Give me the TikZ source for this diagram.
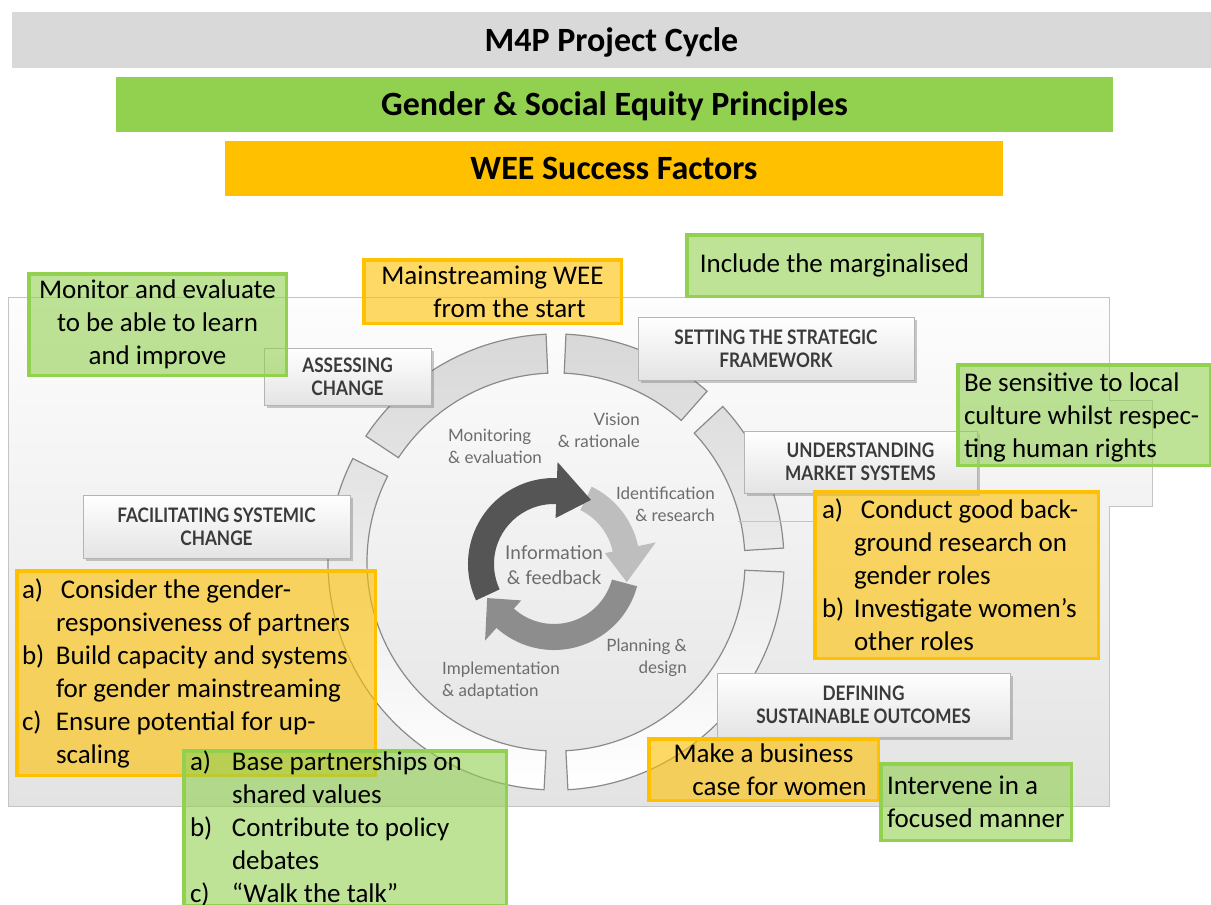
\documentclass[tikz,border=0pt]{standalone}
\usepackage{fontspec}
\setmainfont{Carlito}
\newfontfamily\gillfont{Lato}
\newfontfamily\capsfont{Lato}[FakeStretch=0.86]
\usetikzlibrary{shadows}

\definecolor{titlegray}{HTML}{D9D9D9}
\definecolor{eqgreen}{HTML}{92D050}
\definecolor{weeorange}{HTML}{FFC000}
\definecolor{paneltop}{HTML}{FDFDFD}
\definecolor{panelbottom}{HTML}{E3E3E3}
\definecolor{panelline}{HTML}{C4C4C4}
\definecolor{ringline}{HTML}{8A8A8A}
\definecolor{ringtop}{HTML}{D8D8D8}
\definecolor{capborder}{HTML}{B4B4B4}
\definecolor{capbottom}{HTML}{E4E4E4}
\definecolor{captext}{HTML}{3A3A3A}
\definecolor{cyctext}{HTML}{6C6C6C}
\definecolor{arrdark}{HTML}{555555}
\definecolor{arrlight}{HTML}{BEBEBE}
\definecolor{arrmid}{HTML}{8D8D8D}

% one band of the project-cycle ring, from angle #1 clockwise to angle #2
\newcommand\ringseg[2]{(#1:228) arc[start angle=#1, end angle=#2, radius=228] -- (#2:189) arc[start angle=#2, end angle=#1, radius=189] -- cycle}
\newcommand\capfont{\capsfont\bfseries\fontsize{20}{23}\selectfont}
\newcommand\cycfont{\gillfont\fontsize{17}{22}\selectfont}
\newcommand\notefont{\fontsize{27}{33}\selectfont}

\begin{document}
\begin{tikzpicture}[x=1pt,y=-1pt,
  banner/.style={inner sep=0pt, text height=22pt, text depth=0pt, font=\fontsize{34}{40}\selectfont\bfseries},
  note/.style={line width=3.5pt, fill opacity=0.6, text opacity=1, inner sep=0pt, font=\notefont},
  greennote/.style={note, draw=eqgreen, fill=eqgreen},
  orangenote/.style={note, draw=weeorange, fill=weeorange},
  notetext/.style={inner sep=0pt, outer sep=0pt, font=\notefont, align=left, anchor=west},
  capbox/.style={draw=capborder, line width=0.8pt, top color=white, bottom color=capbottom,
    drop shadow={shadow xshift=2.5pt, shadow yshift=-2.5pt, opacity=0.35, fill=black!60},
    font=\capfont, text=captext, align=center, inner sep=0pt},
  cyclabel/.style={font=\cycfont, text=cyctext, inner sep=0pt},
  segline/.style={draw=ringline, line width=1.2pt},
]
\useasboundingbox (0,0) rectangle (1211,905);

% heading bars
\node[banner, fill=titlegray, minimum width=1199pt, minimum height=56pt] (title) at (611.5,40) {M4P Project Cycle};
\node[banner, fill=eqgreen, minimum width=997pt, minimum height=55pt] (principles) at (614.5,104.5) {Gender \& Social Equity Principles};
\node[banner, fill=weeorange, minimum width=778pt, minimum height=55pt] (factors) at (614,168.5) {WEE Success Factors};

% background panel of the cycle figure
\shade[top color=paneltop, bottom color=panelbottom, draw=panelline, line width=0.8pt]
  (8,297) -- (1109,297) -- (1109,400) -- (1152,400) -- (1152,506) -- (1109,506)
  -- (1109,806) -- (8,806) -- cycle;

% ring of five bands
\begin{scope}[shift={(556,562)}, yscale=-1]
  \shade[top color=ringtop, bottom color=white]
    \ringseg{87.5}{48.5} \ringseg{43}{3.5} \ringseg{-2.5}{-87} \ringseg{-93}{-207} \ringseg{146.5}{92.5};
  \draw[segline]
    \ringseg{87.5}{48.5} \ringseg{43}{3.5} \ringseg{-2.5}{-87} \ringseg{-93}{-207} \ringseg{146.5}{92.5};
\end{scope}
\draw[panelline, line width=0.8pt] (738,521) -- (813,521);

% inner cycle of three curved arrows
\begin{scope}[shift={(554,564)}, yscale=-1]
  \fill[arrmid] (-15:86) arc[start angle=-15, end angle=-132, radius=86] -- (-132:103)
    -- (-153:75) -- (-132:49) -- (-132:60) arc[start angle=-132, end angle=-15, radius=60] -- cycle;
  \fill[arrlight] (64:86) arc[start angle=64, end angle=12, radius=86] -- (12:104)
    -- (-14:75) -- (12:52) -- (12:60) arc[start angle=12, end angle=64, radius=60] -- cycle;
  \fill[arrdark] (205:86) arc[start angle=205, end angle=88, radius=86] -- (88:102)
    -- (60:74) -- (88:46) -- (88:60) arc[start angle=88, end angle=205, radius=60] -- cycle;
\end{scope}

% stage labels inside the ring
\node[cyclabel, anchor=west, align=left] (monitoring) at (448,446) {Monitoring\\\& evaluation};
\node[cyclabel, anchor=east, align=right] (vision) at (640,430) {Vision\\\& rationale};
\node[cyclabel, anchor=east, align=right] (identification) at (715,504) {Identification\\\& research};
\node[cyclabel, align=center, font=\gillfont\fontsize{19}{25}\selectfont] (information) at (554,565) {Information\\\& feedback};
\node[cyclabel, anchor=east, align=right] (planning) at (687,658) {Planning \&\\design};
\node[cyclabel, anchor=west, align=left] (implementation) at (442,681) {Implementation\\\& adaptation};

% phase captions on the ring
\node[capbox, minimum width=167pt, minimum height=57pt] (assessing) at (347.5,376.5) {ASSESSING\\CHANGE};
\node[capbox, minimum width=276pt, minimum height=63pt] (setting) at (776,348.5) {SETTING THE STRATEGIC\\FRAMEWORK};
\node[capbox, minimum width=233pt, minimum height=62pt] (understanding) at (860.5,462) {UNDERSTANDING\\MARKET SYSTEMS};
\node[capbox, minimum width=267pt, minimum height=63pt] (facilitating) at (216.5,526.5) {FACILITATING SYSTEMIC\\CHANGE};
\node[capbox, minimum width=293pt, minimum height=64pt] (defining) at (863.5,705) {DEFINING\\SUSTAINABLE OUTCOMES};

% success factors and principles
\node[greennote, minimum width=257.5pt, minimum height=101.5pt, align=center] (monitor) at (157.5,324.5)
  {Monitor and evaluate\\to be able to learn\\and improve};
\node[orangenote, minimum width=257.5pt, minimum height=63.5pt, align=center] (mainstream) at (492.5,291.5)
  {Mainstreaming WEE\\\hspace*{34pt}from the start};
\node[greennote, minimum width=295.5pt, minimum height=61.5pt] (include) at (834.5,265.5)
  {Include the marginalised};

\node[greennote, minimum width=252.5pt, minimum height=100.5pt] (sensitivebox) at (1084,415) {};
\node[notetext] (sensitive) at ([xshift=8pt,yshift=-2pt]sensitivebox.west)
  {Be sensitive to local\\culture whilst respec-\\ting human rights};

\node[orangenote, minimum width=283.5pt, minimum height=166.5pt] (researchbox) at (956.5,575) {};
\node[notetext] (research) at ([xshift=9pt]researchbox.west)
  {\makebox[32pt][l]{a)}\hspace{7pt}Conduct good back-\\\hspace*{32pt}ground research on\\\hspace*{32pt}gender roles\\\makebox[32pt][l]{b)}Investigate women’s\\\hspace*{32pt}other roles};

\node[orangenote, minimum width=358.5pt, minimum height=204.5pt] (partnersbox) at (196,673) {};
\node[notetext] (partners) at ([xshift=7pt]partnersbox.west)
  {\makebox[34pt][l]{a)}\hspace{5pt}Consider the gender-\\\hspace*{34pt}responsiveness of partners\\\makebox[34pt][l]{b)}Build capacity and systems\\\hspace*{34pt}for gender mainstreaming\\\makebox[34pt][l]{c)}Ensure potential for up-\\\hspace*{34pt}scaling};

\node[greennote, minimum width=322.5pt, minimum height=154.5pt] (valuesbox) at (345,828) {};
\node[notetext] (values) at ([xshift=8pt]valuesbox.west)
  {\makebox[42pt][l]{a)}Base partnerships on\\\hspace*{42pt}shared values\\\makebox[42pt][l]{b)}Contribute to policy\\\hspace*{42pt}debates\\\makebox[42pt][l]{c)}“Walk the talk”};

\node[orangenote, minimum width=229.5pt, minimum height=61.5pt, align=center] (business) at (763.5,769.5)
  {Make a business\\\hspace*{32pt}case for women};

\node[greennote, minimum width=190.5pt, minimum height=76.5pt] (intervenebox) at (976,802) {};
\node[notetext] (intervene) at ([xshift=8pt]intervenebox.west)
  {Intervene in a\\focused manner};
\end{tikzpicture}
\end{document}
